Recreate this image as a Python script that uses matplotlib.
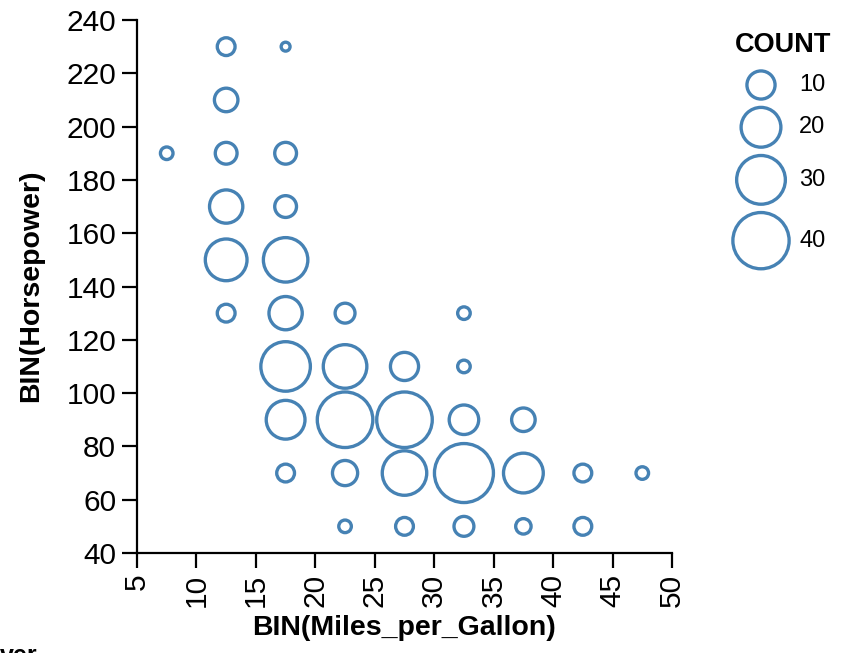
import numpy as np
import matplotlib
matplotlib.use("Agg")
import matplotlib.pyplot as plt

plt.rcParams["font.family"] = ["Liberation Sans", "DejaVu Sans"]

# binned cars data: bin centre of MPG, bin centre of horsepower, count
mpg = [12.5, 17.5, 12.5, 7.5, 12.5, 17.5, 12.5, 17.5, 12.5, 17.5,
       12.5, 17.5, 22.5, 32.5,
       17.5, 22.5, 27.5, 32.5,
       17.5, 22.5, 27.5, 32.5, 37.5,
       17.5, 22.5, 27.5, 32.5, 37.5, 42.5, 47.5,
       22.5, 27.5, 32.5, 37.5, 42.5]
hp = [230, 230, 210, 190, 190, 190, 170, 170, 150, 150,
      130, 130, 130, 130,
      110, 110, 110, 110,
      90, 90, 90, 90, 90,
      70, 70, 70, 70, 70, 70, 70,
      50, 50, 50, 50, 50]
count = [4, 1, 7, 2, 6, 6, 14, 6, 22, 25,
         4, 14, 5, 2,
         31, 24, 10, 2,
         19, 39, 39, 11, 7,
         4, 8, 25, 44, 20, 4, 2,
         2, 4, 5, 3, 4]

legend_counts = [10, 20, 30, 40]
x_ticks = list(range(5, 55, 5))
y_ticks = list(range(40, 260, 20))

color = "#4682b4"
size_per_count = 41  # points^2 per unit count
lw = 2.4

W, H = 850, 653
fig = plt.figure(figsize=(W / 100, H / 100), dpi=100)
ax = fig.add_axes([137 / W, 1 - 553 / H, (672 - 137) / W, (553 - 20) / H])

ax.scatter(mpg, hp, s=np.array(count) * size_per_count, facecolors="none",
           edgecolors=color, linewidths=lw, clip_on=False)

ax.set_xlim(5, 50)
ax.set_ylim(40, 240)
ax.set_xticks(x_ticks)
ax.set_yticks(y_ticks)
ax.set_xticklabels([str(v) for v in x_ticks], rotation=90, va="top", ha="center")
for s in ["top", "right"]:
    ax.spines[s].set_visible(False)
for s in ["left", "bottom"]:
    ax.spines[s].set_linewidth(1.6)
ax.tick_params(length=11, width=1.6, labelsize=21.5, pad=4, color="black")

ax.set_xlabel("BIN(Miles_per_Gallon)", fontsize=20.5, fontweight="bold", labelpad=6)
fig.text(31 / W, 1 - 286 / H, "BIN(Horsepower)", fontsize=20.5, fontweight="bold",
         rotation=90, ha="center", va="center")

# legend drawn in an axes that uses figure pixel coordinates
lax = fig.add_axes([720 / W, 1 - 280 / H, 130 / W, 260 / H])
lax.set_xlim(720, 850)
lax.set_ylim(280, 20)
lax.axis("off")
px_per_pt = 100 / 72
outer = [np.sqrt(c * size_per_count) * px_per_pt + lw * px_per_pt for c in legend_counts]
ys = [85]
for i in range(1, len(legend_counts)):
    ys.append(ys[-1] + (outer[i - 1] + outer[i]) / 2 + 5)
lax.scatter([761] * len(legend_counts), ys, s=np.array(legend_counts) * size_per_count,
            facecolors="none", edgecolors=color, linewidths=lw, clip_on=False)
for c, y in zip(legend_counts, ys):
    lax.text(799, y, str(c), fontsize=17, va="center", ha="left")
lax.text(735, 45, "COUNT", fontsize=19.5, fontweight="bold", va="center", ha="left")

fig.text(0, 1 - 644 / H, "ver", fontsize=18, fontweight="bold", va="top", ha="left")

fig.savefig("out.png", dpi=100)
